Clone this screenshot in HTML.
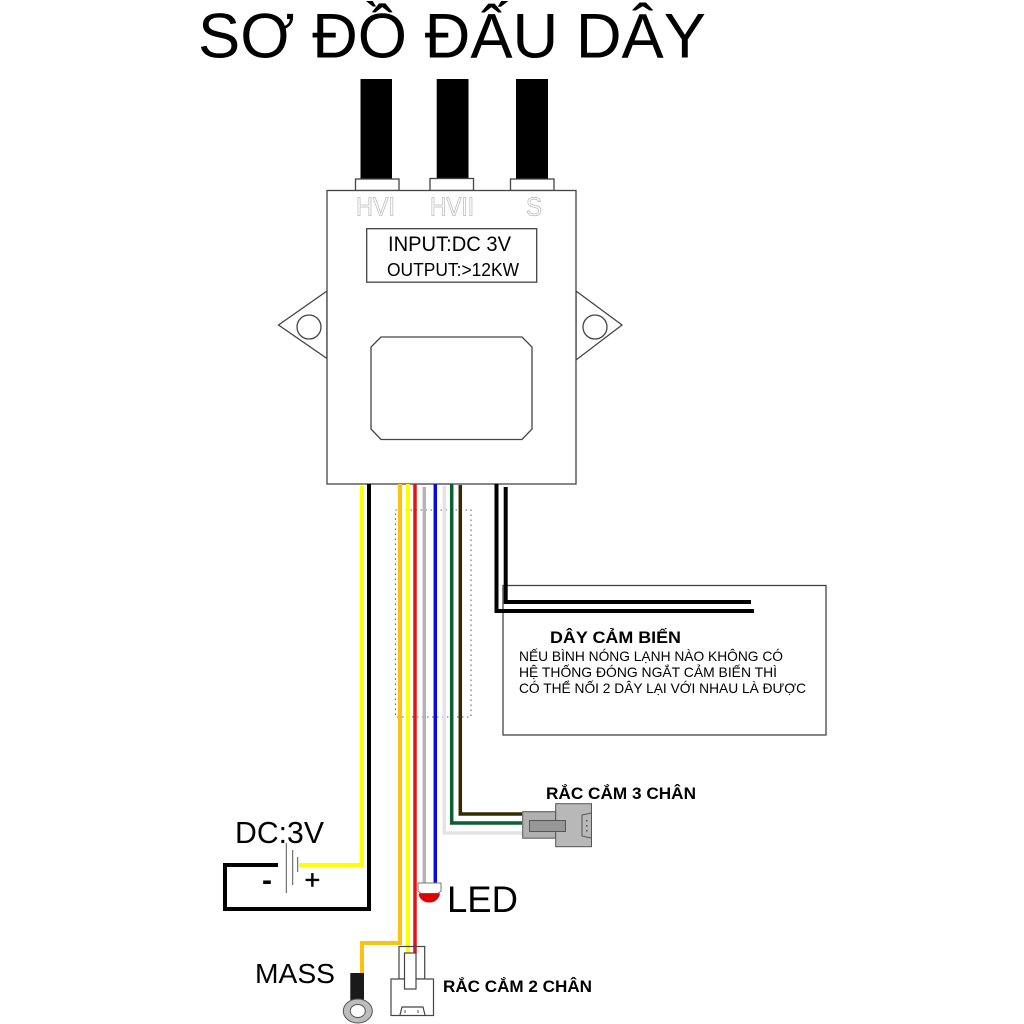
<!DOCTYPE html>
<html><head><meta charset="utf-8"><style>html,body{margin:0;padding:0;background:#fff}svg{display:block}text{font-family:"Liberation Sans",sans-serif;fill:#000}</style></head><body>
<svg width="1024" height="1024" viewBox="0 0 1024 1024" xmlns="http://www.w3.org/2000/svg">
<rect width="1024" height="1024" fill="#fff"/>
<text x="198" y="57.500" font-size="63" textLength="508" lengthAdjust="spacingAndGlyphs">SƠ ĐỒ ĐẤU DÂY</text>
<g fill="#000"><rect x="360.500" y="79" width="31.500" height="100"/><rect x="436.700" y="79" width="31.800" height="100"/><rect x="516" y="79" width="32" height="100"/></g>
<g fill="#fff" stroke="#444" stroke-width="1.300"><rect x="355.500" y="179" width="43.500" height="11.500"/><rect x="430" y="178.500" width="43.500" height="12"/><rect x="510.500" y="179" width="43.500" height="11.500"/>
<path d="M327 291L278.500 325L327 358.500Z"/><path d="M576 291L622 325L576 360Z"/><circle cx="309" cy="327" r="12"/><circle cx="595" cy="327" r="12"/>
<rect x="327" y="190.500" width="249" height="293.500"/>
<rect x="366.700" y="228.700" width="170" height="53.500"/>
<path d="M381 337H522L532 347V429L522 439.500H381L371 429V347Z"/></g>
<g font-size="26" stroke="#bbb" stroke-width=".8"><text x="356" y="215.500" textLength="39" lengthAdjust="spacingAndGlyphs" style="fill:#fff">HVI</text><text x="430" y="215.500" textLength="44" lengthAdjust="spacingAndGlyphs" style="fill:#fff">HVII</text><text x="526" y="215.500" textLength="16" lengthAdjust="spacingAndGlyphs" style="fill:#fff">S</text></g>
<text x="388" y="251" font-size="21" textLength="123" lengthAdjust="spacingAndGlyphs">INPUT:DC 3V</text>
<text x="387" y="276" font-size="18" textLength="132" lengthAdjust="spacingAndGlyphs">OUTPUT:&gt;12KW</text>
<rect x="395.500" y="510" width="75.500" height="207" fill="none" stroke="#666" stroke-width="1.100" stroke-dasharray="1.500 3.500"/>
<rect x="503" y="585.500" width="323" height="149.500" fill="#fff" stroke="#444" stroke-width="1.300"/>
<g fill="none" stroke-linejoin="miter">
<path d="M505.700 487V602H751" stroke="#000" stroke-width="4"/>
<path d="M496.500 484V611H754" stroke="#000" stroke-width="4"/>
<path d="M362 486V865H299" stroke="#ff0" stroke-width="4"/>
<path d="M369 484V909H225V865H278" stroke="#000" stroke-width="4"/>
<path d="M400 484V943H362V973" stroke="#fcc212" stroke-width="4"/>
<path d="M408 484V953" stroke="#ff0" stroke-width="4"/>
<path d="M415 484V953" stroke="#e81010" stroke-width="3.500"/>
<path d="M424.300 487V884" stroke="#b5b5b5" stroke-width="3.500"/>
<path d="M435.300 484V884" stroke="#0a0ad8" stroke-width="3.500"/>
<path d="M444.300 486V833H522" stroke="#e4e4e4" stroke-width="3.500"/>
<path d="M451.700 484V823H522" stroke="#0a6030" stroke-width="3.500"/>
<path d="M460.300 485V814H522" stroke="#332a00" stroke-width="3.500"/>
</g>
<g stroke="#555" stroke-width="1"><path d="M286.300 843V893M292.700 850V885M297.700 857V872" fill="none"/></g>
<text x="235" y="843" font-size="31" textLength="89" lengthAdjust="spacingAndGlyphs">DC:3V</text>
<text x="262" y="890" font-size="30" font-weight="bold">-</text><text x="304.500" y="889" font-size="27" stroke="#000" stroke-width=".5">+</text>
<text x="550" y="643" font-size="17" font-weight="bold" textLength="131" lengthAdjust="spacingAndGlyphs">DÂY CẢM BIẾN</text>
<text x="519" y="661" font-size="14" textLength="264" lengthAdjust="spacingAndGlyphs">NẾU BÌNH NÓNG LẠNH NÀO KHÔNG CÓ</text>
<text x="519" y="677" font-size="14" textLength="258" lengthAdjust="spacingAndGlyphs">HỆ THỐNG ĐÓNG NGẮT CẢM BIẾN THÌ</text>
<text x="519" y="693" font-size="14" textLength="287" lengthAdjust="spacingAndGlyphs">CÓ THỂ NỐI 2 DÂY LẠI VỚI NHAU LÀ ĐƯỢC</text>
<g stroke="#555" stroke-width="1"><rect x="522.700" y="811.700" width="33" height="26.500" fill="#b0b0b0"/><rect x="555.700" y="803.700" width="35.800" height="43" fill="#b8b8b8"/><rect x="529.500" y="820.500" width="36" height="11" fill="#979797"/>
<path d="M591 813L582 815V836L591 838" fill="#b8b8b8"/></g>
<g fill="#555"><rect x="586" y="820" width="1.500" height="1.500"/><rect x="586" y="825" width="1.500" height="1.500"/><rect x="586" y="830" width="1.500" height="1.500"/></g>
<text x="546" y="799" font-size="16.500" font-weight="bold" textLength="150" lengthAdjust="spacingAndGlyphs">RẮC CẮM 3 CHÂN</text>
<path d="M418 883H441V891L438 893.500H421L418 891Z" fill="#fff" stroke="#777" stroke-width="1"/>
<path d="M418.500 893.500H440A10.800 10 0 0 1 418.500 893.500Z" fill="#e00000"/>
<text x="447" y="912" font-size="37" textLength="71" lengthAdjust="spacingAndGlyphs">LED</text>
<text x="255" y="983" font-size="28" textLength="80" lengthAdjust="spacingAndGlyphs">MASS</text>
<rect x="350.300" y="973" width="13.700" height="28" fill="#1a1a1a"/>
<ellipse cx="357.800" cy="1011" rx="14.500" ry="12" fill="#bdbdbd" stroke="#555" stroke-width="1"/>
<ellipse cx="357.800" cy="1011" rx="7.500" ry="6.500" fill="#fff" stroke="#555" stroke-width="1"/>
<g stroke="#444" stroke-width="1.200" fill="none"><rect x="399" y="946.500" width="25.700" height="32.500"/><rect x="391" y="979" width="42.500" height="36.500" fill="#fff"/><rect x="404.500" y="953" width="11.500" height="36" fill="#fff"/><path d="M400 1015L402 1007H423L425 1015"/></g>
<g stroke="#555" stroke-width="1"><path d="M405 1010v3M418 1010v3"/></g>
<text x="443" y="992" font-size="16.500" font-weight="bold" textLength="149" lengthAdjust="spacingAndGlyphs">RẮC CẮM 2 CHÂN</text>
</svg></body></html>
